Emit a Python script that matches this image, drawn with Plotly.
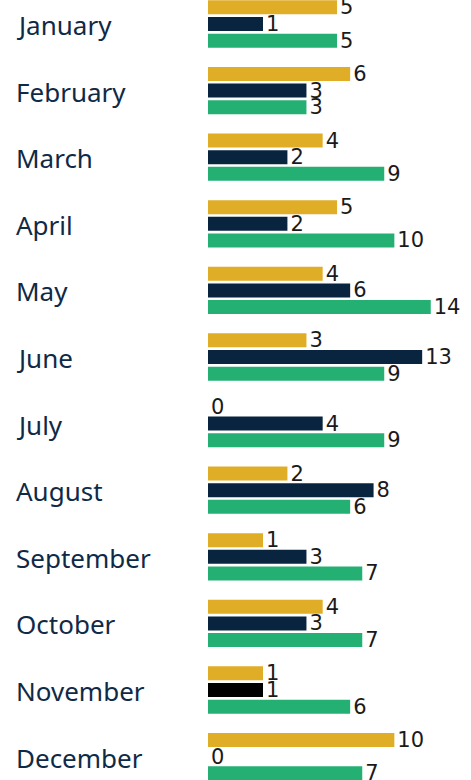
import plotly.graph_objects as go

months = ["January", "February", "March", "April", "May", "June",
          "July", "August", "September", "October", "November", "December"]
series_gold = [5, 6, 4, 5, 4, 3, 0, 2, 1, 4, 1, 10]
series_navy = [1, 3, 2, 2, 6, 13, 4, 8, 3, 3, 1, 0]
series_green = [5, 3, 9, 10, 14, 9, 9, 6, 7, 7, 6, 7]

EXP = 0.53  # display compression of bar length (reference uses a compressed scale)

def length(vals):
    return [v ** EXP for v in vals]

gold = "#E0AD26"
navy = "#08243F"
green = "#24B073"
navy_colors = [navy] * len(months)
navy_colors[10] = "#000000"

num_font = dict(family="DejaVu Sans", size=21, color="#1a1a1a")

fig = go.Figure()
for vals, col in [(series_gold, gold), (series_navy, navy_colors), (series_green, green)]:
    fig.add_trace(go.Bar(
        y=months, x=length(vals), orientation="h",
        marker=dict(color=col, line=dict(width=0)),
        text=[str(v) for v in vals], textposition="outside",
        textfont=num_font, outsidetextfont=num_font,
        cliponaxis=False, hoverinfo="skip", constraintext="none",
    ))

L, R = 208, 0
W = 471 - L - R
pitch = 66.6
top_center = 24
H = 780
y0 = -top_center / pitch
y1 = y0 + H / pitch

for m in months:
    fig.add_annotation(
        x=(14 - L) / W, xref="paper", y=m, yref="y",
        text=m, showarrow=False, xanchor="left", yanchor="middle",
        font=dict(family="Noto Sans", size=26, color="#0F2A47"), yshift=-1,
    )

fig.update_layout(
    width=471, height=780,
    margin=dict(l=L, r=R, t=0, b=0, pad=0, autoexpand=False),
    barmode="group", bargap=0.25, bargroupgap=0.16,
    plot_bgcolor="white", paper_bgcolor="white",
    showlegend=False,
)
fig.update_xaxes(range=[0, W / 55.0], visible=False, fixedrange=True, automargin=False)
fig.update_yaxes(range=[y1, y0], visible=False, fixedrange=True, automargin=False)

fig.write_html(
    "out.html",
    config={"displayModeBar": False},
    post_script="document.body.style.margin='0px';document.body.style.overflow='hidden';",
)
